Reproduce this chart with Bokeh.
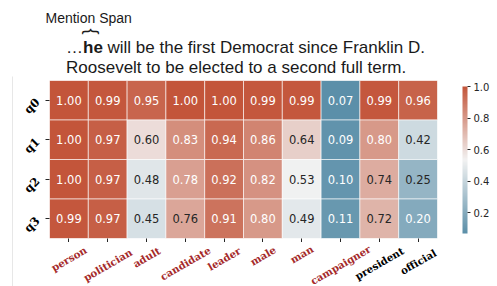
import math
from bokeh.plotting import figure
from bokeh.layouts import column, row
from bokeh.models import (ColumnDataSource, LinearColorMapper, ColorBar, FixedTicker,
                          PrintfTickFormatter, Range1d, Spacer)
from bokeh.core.properties import value
from bokeh.embed import file_html
from bokeh.resources import INLINE

# ---------------- data ----------------
words = ["person", "politician", "adult", "candidate", "leader",
         "male", "man", "campaigner", "president", "official"]
highlighted = [True, True, True, True, True, True, True, True, False, False]
queries = ["q0", "q1", "q2", "q3"]
q0 = [1.00, 0.99, 0.95, 1.00, 1.00, 0.99, 0.99, 0.07, 0.99, 0.96]
q1 = [1.00, 0.97, 0.60, 0.83, 0.94, 0.86, 0.64, 0.09, 0.80, 0.42]
q2 = [1.00, 0.97, 0.48, 0.78, 0.92, 0.82, 0.53, 0.10, 0.74, 0.25]
q3 = [0.99, 0.97, 0.45, 0.76, 0.91, 0.80, 0.49, 0.11, 0.72, 0.20]
cbar_ticks = [0.2, 0.4, 0.6, 0.8, 1.0]

header_top = "Mention Span"
line1_pre = "\u2026"
line1_bold = "he"
line1_rest = "will be the first Democrat since Franklin D."
line2 = "Roosevelt to be elected to a second full term."

# ---------------- colour map ----------------
def hex2rgb(h):
    h = h.lstrip("#")
    return tuple(int(h[i:i + 2], 16) for i in (0, 2, 4))

anchors = [(0.0, "#5b8fa9"), (0.5, "#f2f2f2"), (1.0, "#c3553a")]
palette = []
for i in range(256):
    t = i / 255
    for (t0, c0), (t1, c1) in zip(anchors[:-1], anchors[1:]):
        if t0 <= t <= t1:
            f = (t - t0) / (t1 - t0)
            a, b = hex2rgb(c0), hex2rgb(c1)
            palette.append("#%02x%02x%02x" % tuple(round(a[k] + f * (b[k] - a[k])) for k in range(3)))
            break

rows = {"q0": q0, "q1": q1, "q2": q2, "q3": q3}
xs, ys, vals, labels, tcols = [], [], [], [], []
for q in queries:
    for w, v in zip(words, rows[q]):
        xs.append(w)
        ys.append(q)
        vals.append(v)
        labels.append("%.2f" % v)
        tcols.append("#262626" if 0.22 < v < 0.77 else "#ffffff")
all_vals = q0 + q1 + q2 + q3
mapper = LinearColorMapper(palette=palette, low=min(all_vals), high=max(all_vals))
src = ColumnDataSource(dict(x=xs, y=ys, v=vals, label=labels, tc=tcols))

W, H = 497, 286
HEAD_H = 76
LEFT_GAP = 12
HEAT_H = 166

# ---------------- header ----------------
hdr = figure(width=W, height=HEAD_H, x_range=Range1d(0, W), y_range=Range1d(0, HEAD_H),
             min_border=0, x_axis_type=None, y_axis_type=None,
             output_backend="svg", toolbar_location=None)
hdr.outline_line_color = None
hdr.grid.grid_line_color = None
hfont = value("Liberation Sans")
hcol = "#1a1a1a"

def htext(x, y_from_top, txt, size, **kw):
    hdr.text(x=[x], y=[HEAD_H - y_from_top], text=[txt], text_font=hfont,
             text_font_size=size, text_color=hcol, **kw)

htext(45, 17, header_top, "14px", text_baseline="alphabetic")
htext(65.5, 47, line1_pre, "17px", text_baseline="alphabetic")
htext(82.5, 47, line1_bold, "17px", text_font_style="bold", text_baseline="alphabetic")
htext(107, 47, line1_rest, "17px", text_baseline="alphabetic")
htext(65.5, 67, line2, "17px", text_baseline="alphabetic")
htext(88, 31, "}", "18px", angle=math.pi / 2, text_align="center", text_baseline="middle")

# ---------------- thin grey rule ----------------
rule = figure(width=1, height=H - HEAD_H, min_border=0, x_axis_type=None, y_axis_type=None,
              output_backend="svg", toolbar_location=None)
rule.outline_line_color = None
rule.grid.grid_line_color = None
rule.background_fill_color = "#d0d0d0"
rule.border_fill_color = "#d0d0d0"

# ---------------- heatmap ----------------
PW = W - LEFT_GAP - 1
p = figure(x_range=words, y_range=list(reversed(queries)), width=PW, height=HEAT_H,
           min_border_left=29, min_border_right=60, min_border_top=4, min_border_bottom=4,
           output_backend="svg", toolbar_location=None)
p.outline_line_color = None
p.grid.grid_line_color = None

p.rect(x="x", y="y", width=1, height=1, source=src,
       fill_color={"field": "v", "transform": mapper},
       line_color="white", line_alpha=0.6, line_width=1)
p.text(x="x", y="y", text="label", source=src, text_align="center", text_baseline="middle",
       text_color="tc", text_font_size="11.5px", text_font=value("DejaVu Sans"))

for ax in (p.xaxis[0], p.yaxis[0]):
    ax.axis_line_color = None
    ax.major_tick_in = 0
    ax.major_tick_out = 4
    ax.major_tick_line_color = "#262626"
    ax.minor_tick_line_color = None
p.xaxis.major_label_text_font_size = "0px"
p.xaxis.major_label_standoff = 0
p.yaxis.major_label_orientation = math.pi / 4
p.yaxis.major_label_text_font = "DejaVu Serif"
p.yaxis.major_label_text_font_style = "bold"
p.yaxis.major_label_text_font_size = "11.5px"
p.yaxis.major_label_text_color = "black"
p.yaxis.major_label_standoff = 8

cb = ColorBar(color_mapper=mapper, ticker=FixedTicker(ticks=cbar_ticks),
              formatter=PrintfTickFormatter(format="%.1f"),
              width=5, height=147, padding=0, margin=0, location=(25, 5),
              major_tick_in=0, major_tick_out=3, major_tick_line_color="#262626",
              major_label_text_font_size="10px", major_label_text_color="#262626",
              major_label_text_font="DejaVu Sans", label_standoff=3,
              bar_line_color=None, border_line_color=None, background_fill_color=None)
p.add_layout(cb, "right")

# ---------------- rotated, coloured x tick labels ----------------
LAB_H = H - HEAD_H - HEAT_H
lab = figure(x_range=p.x_range, y_range=Range1d(-LAB_H, 0), width=PW, height=LAB_H,
             min_border_left=29, min_border_right=60, min_border_top=0, min_border_bottom=0,
             x_axis_type=None, y_axis_type=None, output_backend="svg", toolbar_location=None)
lab.outline_line_color = None
lab.grid.grid_line_color = None
fs = 10.2
lab_y = []
for w in words:
    tw = len(w) * 0.6 * fs
    th = 1.0 * fs
    lab_y.append(-(2.5 + (tw * 0.5 + th * 0.866) / 2))
lsrc = ColumnDataSource(dict(x=words, y=lab_y, t=words,
                             c=["#a52a2a" if h else "#000000" for h in highlighted]))
lab.text(x="x", y="y", text="t", source=lsrc, angle=math.radians(30),
         text_align="center", text_baseline="middle", text_color="c",
         text_font=value("DejaVu Serif"), text_font_style="bold", text_font_size="%gpx" % fs)

layout = column(hdr, row(Spacer(width=LEFT_GAP), rule, column(p, lab)))
open("out.html", "w").write(file_html(layout, INLINE))
